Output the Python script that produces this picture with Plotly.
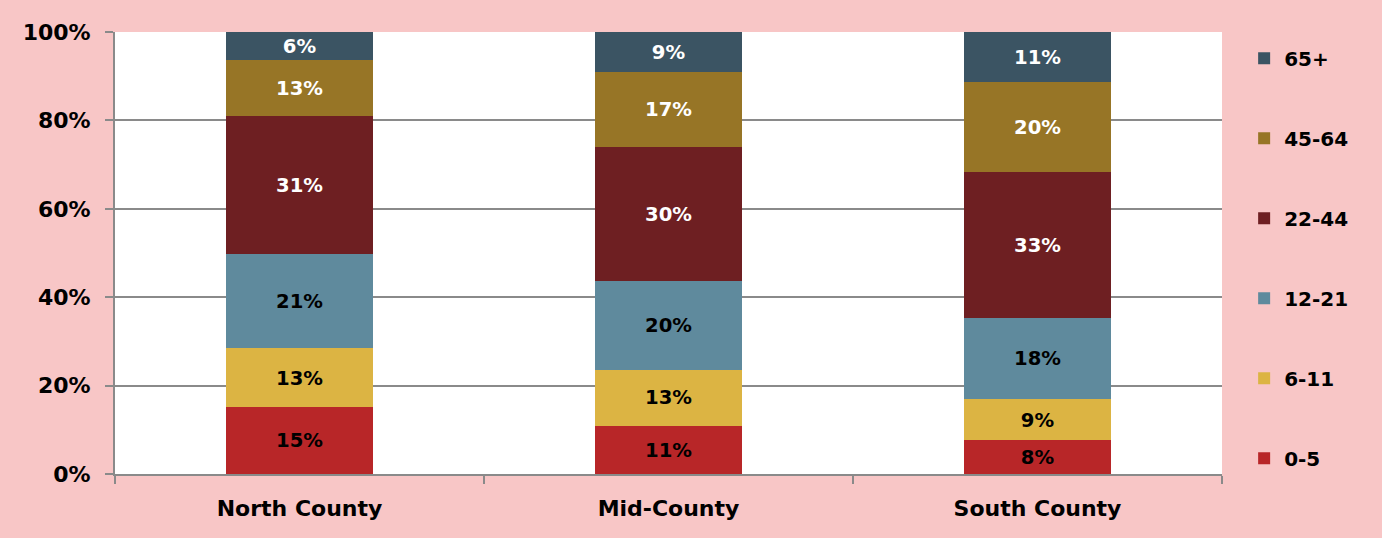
import plotly.graph_objects as go

counties = ["North County", "Mid-County", "South County"]

age_groups = ["0-5", "6-11", "12-21", "22-44", "45-64", "65+"]

share_0_5 = [15.1, 10.9, 7.6]
share_6_11 = [13.3, 12.7, 9.3]
share_12_21 = [21.3, 20.0, 18.4]
share_22_44 = [31.3, 30.3, 33.1]
share_45_64 = [12.6, 17.1, 20.2]
share_65_plus = [6.4, 9.0, 11.4]

y_ticks = [0, 20, 40, 60, 80, 100]
y_tick_labels = ["0%", "20%", "40%", "60%", "80%", "100%"]

series = [share_0_5, share_6_11, share_12_21, share_22_44, share_45_64, share_65_plus]
bar_colors = ["#b82628", "#dcb443", "#5f8a9d", "#6e1f22", "#977526", "#3b5463"]
label_colors = ["black", "black", "black", "white", "white", "white"]

FONT = "DejaVu Sans"

fig = go.Figure()
for i, (name, vals, col, lab) in enumerate(zip(age_groups, series, bar_colors, label_colors)):
    fig.add_trace(go.Bar(
        x=counties, y=vals, name=name,
        legendgroup=name,
        legendrank=len(age_groups) - i,
        marker=dict(color=col, line=dict(width=0)),
        texttemplate="%{y:.0f}%",
        textposition="inside",
        insidetextanchor="middle",
        textangle=0,
        textfont=dict(family=FONT, size=22, color=lab, weight="bold"),
        width=0.4,
    ))

fig.update_layout(
    barmode="stack",
    width=1382, height=538,
    paper_bgcolor="#f8c6c6",
    plot_bgcolor="white",
    margin=dict(l=115, r=160, t=32, b=64),
    uniformtext=dict(mode="show", minsize=8),
    legend=dict(
        traceorder="grouped",
        tracegroupgap=51,
        x=1.02, xanchor="left",
        y=0.985, yanchor="top",
        maxheight=1,
        font=dict(family=FONT, size=20, color="black", weight="bold"),
        bgcolor="rgba(0,0,0,0)",
        itemwidth=30,
    ),
    font=dict(family=FONT, color="black"),
)

fig.update_yaxes(
    range=[0, 100],
    tickvals=y_ticks, ticktext=y_tick_labels,
    tickfont=dict(family=FONT, size=22, color="black", weight="bold"),
    showgrid=True, gridcolor="#8a8a8a", gridwidth=2,
    showline=True, linecolor="#8a8a8a", linewidth=2,
    ticks="outside", ticklen=8, tickcolor="#8a8a8a", tickwidth=2,
    ticklabelstandoff=10,
    zeroline=False,
)
fig.update_xaxes(
    tickfont=dict(family=FONT, size=22, color="black", weight="bold"),
    showline=True, linecolor="#8a8a8a", linewidth=2,
    ticks="outside", tickson="boundaries", ticklen=8,
    tickcolor="#8a8a8a", tickwidth=2,
    ticklabelstandoff=14,
    range=[-0.5, 2.5],
)

fig.write_html(
    "out.html",
    config={"displayModeBar": False},
    post_script="document.body.style.margin='0';document.body.style.overflow='hidden';",
)
